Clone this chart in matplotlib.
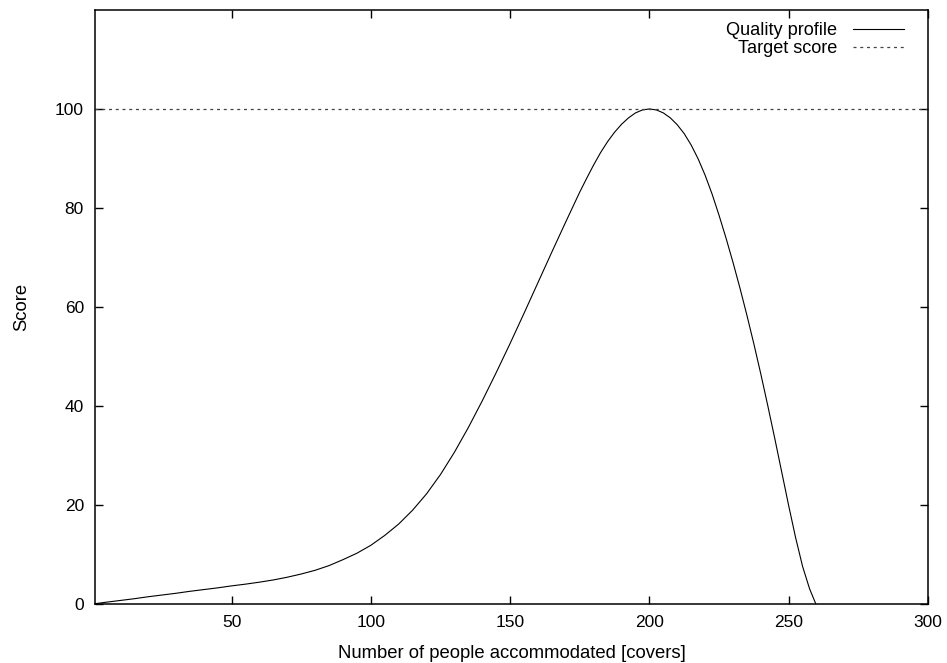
import numpy as np
import matplotlib
matplotlib.use("Agg")
import matplotlib.pyplot as plt

# valeurs
couverts = [1, 5, 10, 15, 20, 25, 30, 35, 40, 45, 50, 55, 60, 65, 70, 75, 80, 85,
            90, 95, 100, 105, 110, 115, 120, 125, 130, 135, 140, 145, 150, 155,
            160, 165, 170, 175, 177.5, 180, 182.5, 185, 187.5, 190, 192.5, 195,
            197.5, 200, 202.5, 205, 207.5, 210, 212.5, 215, 217.5, 220, 222.5,
            225, 227.5, 230, 232.5, 235, 237.5, 240, 242.5, 245, 247.5, 250,
            252.5, 255, 257.5, 259.7]
score = [0, 0.3, 0.65, 1.0, 1.4, 1.75, 2.1, 2.5, 2.85, 3.2, 3.6, 3.95, 4.35, 4.8,
         5.35, 6.0, 6.75, 7.7, 8.9, 10.2, 11.8, 13.8, 16.1, 18.9, 22.2, 26.1,
         30.6, 35.6, 41.0, 46.7, 52.6, 58.7, 64.9, 71.1, 77.2, 83.2, 86.0, 88.7,
         91.2, 93.4, 95.3, 96.9, 98.2, 99.2, 99.8, 100.0, 99.8, 99.2, 98.2, 96.8,
         95.0, 92.7, 89.9, 86.6, 82.8, 78.5, 73.9, 69.0, 63.8, 58.3, 52.5, 46.4,
         40.0, 33.4, 26.6, 19.8, 13.3, 7.5, 3.0, 0]
cible = 100
xticks = [50, 100, 150, 200, 250, 300]
yticks = [0, 20, 40, 60, 80, 100]

plt.rcParams['font.family'] = ['Liberation Sans', 'DejaVu Sans']
plt.rcParams['font.size'] = 13

fig = plt.figure(figsize=(9.47, 6.63), dpi=100)
ax = fig.add_axes([95/947, 1-603.7/663, (928-95)/947, (603.7-10)/663])

ax.plot(couverts, score, color='black', lw=0.8, label='Quality profile')
ax.axhline(cible, color='#444444', lw=0.9, dashes=(2.4, 3.0), label='Target score')

ax.set_xlim(1, 300)
ax.set_ylim(0, 120)
ax.set_xticks(xticks)
ax.set_yticks(yticks)
ax.tick_params(direction='in', length=6, width=1, top=True, right=True, pad=8,
               labelsize=12.5)
for s in ax.spines.values():
    s.set_linewidth(1.1)

ax.set_xlabel('Number of people accommodated [covers]', fontsize=13.3, labelpad=11)
ax.set_ylabel('Score', fontsize=13.3, labelpad=18)

leg = ax.legend(loc='upper right', frameon=False, markerfirst=False,
                handlelength=2.8, handletextpad=0.85, labelspacing=0.05,
                borderaxespad=0.5, fontsize=13.1,
                bbox_to_anchor=(1 - 8/833, 1 + 4/593))
for t in leg.get_texts():
    t.set_ha('right')

fig.savefig('out.png', dpi=100)
